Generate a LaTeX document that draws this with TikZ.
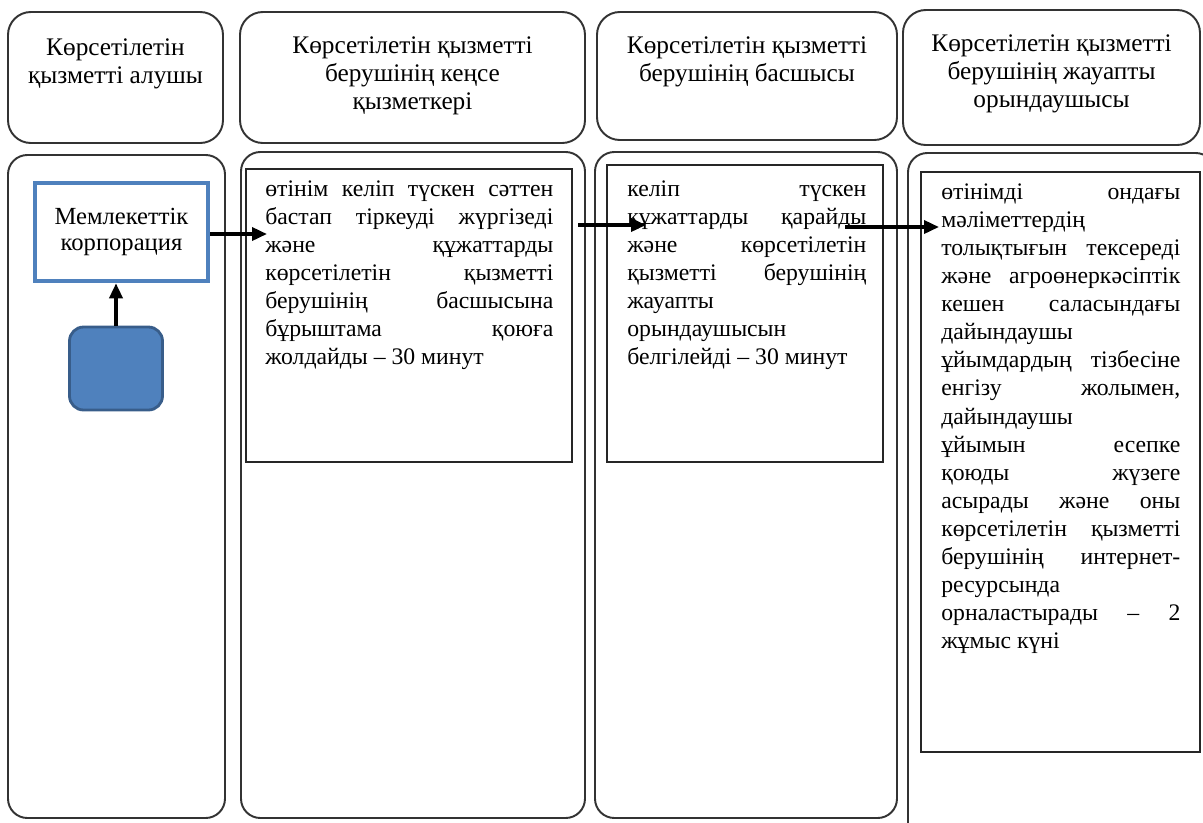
\documentclass[tikz,border=0pt]{standalone}
\usepackage{fontspec}
\setmainfont{Liberation Serif}
\usetikzlibrary{arrows.meta}
\definecolor{corpblue}{RGB}{79,129,189}
\definecolor{corpdark}{RGB}{56,93,138}
\setlength{\parindent}{0pt}

\begin{document}
\begin{tikzpicture}[auto,scale=1.0]
        \tikzstyle{head}=[rectangle,draw=black!80,line width=1.1pt,rounded corners=13pt,inner sep=0pt]
        \tikzstyle{lane}=[rectangle,draw=black!80,line width=1.1pt,rounded corners=11pt,inner sep=0pt]
        \tikzstyle{stage}=[rectangle,draw=black!85,line width=1pt,inner sep=0pt]
        \tikzstyle{headtext}=[anchor=north,align=center,inner sep=0pt,font=\fontsize{14.4}{16}\selectfont]
        \tikzstyle{body}=[anchor=north west,align=justify,inner sep=0pt,font=\fontsize{13.5}{16}\selectfont]
        \tikzstyle{flow}=[line width=2pt,-{Triangle[length=3mm,width=2.6mm]}]
        \useasboundingbox (0,0) rectangle (24.06,-16.44);
        \clip (0,0) rectangle (24.06,-16.44);
        \node [head,minimum width=4.30cm,minimum height=2.62cm] (h1) at (2.31,-1.55) {};
        \node [head,minimum width=6.90cm,minimum height=2.62cm] (h2) at (8.25,-1.55) {};
        \node [head,minimum width=6.00cm,minimum height=2.56cm] (h3) at (14.94,-1.52) {};
        \node [head,minimum width=5.94cm,minimum height=2.70cm] (h4) at (21.03,-1.55) {};
        \node [headtext] (ht1) at (2.31,-0.77) {Көрсетілетін\\қызметті алушы};
        \node [headtext] (ht2) at (8.25,-0.72) {Көрсетілетін қызметті\\берушінің кеңсе\\қызметкері};
        \node [headtext] (ht3) at (14.94,-0.72) {Көрсетілетін қызметті\\берушінің басшысы};
        \node [headtext] (ht4) at (21.03,-0.68) {Көрсетілетін қызметті\\берушінің жауапты\\орындаушысы};
        \node [lane,minimum width=4.34cm,minimum height=13.26cm] (l1) at (2.33,-9.73) {};
        \node [lane,minimum width=6.88cm,minimum height=13.32cm] (l2) at (8.26,-9.70) {};
        \node [lane,minimum width=6.04cm,minimum height=13.32cm] (l3) at (14.92,-9.70) {};
        \node [lane,minimum width=6.14cm,minimum height=13.94cm] (l4) at (21.23,-10.03) {};
        \node [stage,minimum width=6.52cm,minimum height=5.86cm] (b2) at (8.18,-6.31) {};
        \node [stage,minimum width=5.52cm,minimum height=5.94cm] (b3) at (14.90,-6.27) {};
        \node [stage,minimum width=5.58cm,minimum height=11.60cm] (b4) at (21.21,-9.24) {};
        \node [rectangle,draw=corpblue,line width=2.6pt,minimum width=3.46cm,minimum height=1.96cm,align=center,font=\fontsize{14}{14.9}\selectfont] (corp) at (2.43,-4.64) {Мемлекеттік\\корпорация};
        \node [rectangle,draw=corpdark,fill=corpblue,line width=1.6pt,rounded corners=8pt,minimum width=1.86cm,minimum height=1.66cm] (sq) at (2.32,-7.37) {};
        \node [body,text width=5.76cm] (t2) at (5.30,-3.60) {өтінім келіп түскен сәттен\linebreak
            бастап тіркеуді жүргізеді\linebreak
            және құжаттарды\linebreak
            көрсетілетін қызметті\linebreak
            берушінің басшысына\linebreak
            бұрыштама қоюға\linebreak
            жолдайды – 30 минут};
        \node [body,text width=4.78cm] (t3) at (12.54,-3.60) {келіп түскен\linebreak
            құжаттарды қарайды\linebreak
            және көрсетілетін\linebreak
            қызметті берушінің\linebreak
            жауапты\newline
            орындаушысын\newline
            белгілейді – 30 минут};
        \node [body,text width=4.78cm] (t4) at (18.82,-3.66) {өтінімді ондағы\linebreak
            мәліметтердің\newline
            толықтығын тексереді\linebreak
            және агроөнеркәсіптік\linebreak
            кешен саласындағы\linebreak
            дайындаушы\newline
            ұйымдардың тізбесіне\linebreak
            енгізу жолымен,\linebreak
            дайындаушы\newline
            ұйымын есепке\linebreak
            қоюды жүзеге\linebreak
            асырады және оны\linebreak
            көрсетілетін қызметті\linebreak
            берушінің интернет-\linebreak
            ресурсында\newline
            орналастырады – 2\linebreak
            жұмыс күні};
        \coordinate (e1) at (5.34,-4.68);
        \coordinate (s2) at (11.56,-4.50);
        \coordinate (e2) at (12.92,-4.50);
        \coordinate (s3) at (16.90,-4.54);
        \coordinate (e3) at (18.78,-4.54);
        \draw [flow] (sq.north) -- (sq.north |- corp.south);
        \draw [flow] (corp.east |- e1) -- (e1);
        \draw [flow] (s2) -- (e2);
        \draw [flow] (s3) -- (e3);
\end{tikzpicture}
\end{document}
